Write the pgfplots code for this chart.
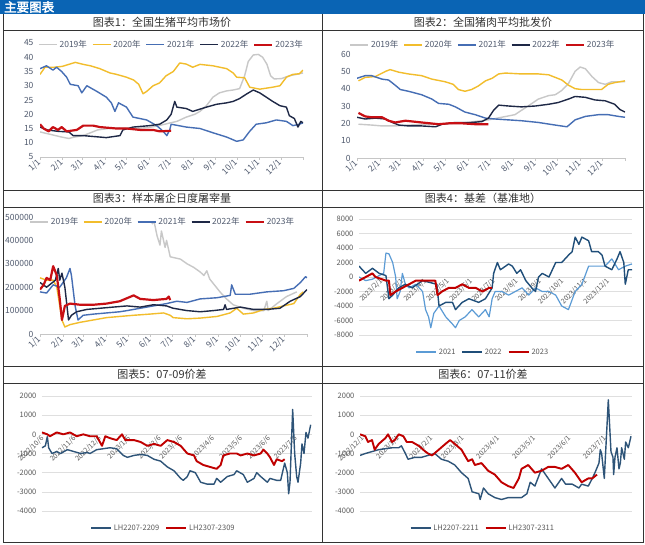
\documentclass[border=0pt]{standalone}
\usepackage{fontspec}
\setmainfont{Noto Sans CJK SC}
\newfontfamily\hdfont[FakeBold=2.5]{Noto Sans CJK SC}
\usepackage{pgfplots}
\pgfplotsset{compat=1.18}
\definecolor{hdblue}{RGB}{10,100,180}
\definecolor{cA}{RGB}{200,200,200}
\definecolor{cB}{RGB}{242,189,44}
\definecolor{cC}{RGB}{70,110,180}
\definecolor{cD}{RGB}{30,40,70}
\definecolor{cE}{RGB}{200,15,20}
\definecolor{lb}{RGB}{91,155,213}
\definecolor{db}{RGB}{31,78,121}
\definecolor{rr}{RGB}{192,0,0}
\definecolor{st}{RGB}{46,84,120}
\definecolor{tickc}{RGB}{80,90,110}
\definecolor{tickg}{RGB}{89,89,89}
\pgfplotsset{
 p13/.style={
  scale only axis, anchor=south west, xmin=0, xmax=365,
  scaled y ticks=false,
  axis lines*=left, tick align=outside,
  y axis line style={draw=none}, ytick style={draw=none},
  x axis line style={draw=gray!45, line width=0.8pt},
  xtick style={draw=gray!45}, major tick length=3pt,
  xtick={0,31,59,90,120,151,181,212,243,273,304,334,365},
  xticklabels={1/1,2/1,3/1,4/1,5/1,6/1,7/1,8/1,9/1,10/1,11/1,12/1,{}},
  xticklabel style={rotate=45, anchor=east, font=\fontsize{8.5}{9}\selectfont, text=tickc, inner sep=1pt},
  yticklabel style={font=\fontsize{8.5}{9}\selectfont, text=tickc},
  legend style={draw=none, fill=none, legend columns=-1, font=\fontsize{8.5}{9}\selectfont, text=tickc, inner sep=0pt, /tikz/every even column/.append style={column sep=3pt}},
  legend image code/.code={\draw[##1] (0pt,0pt) -- (18pt,0pt);},
  every axis plot/.append style={line join=round},
 },
 p46/.style={
  scale only axis, anchor=south west, scaled y ticks=false,
  axis x line=middle, axis y line=left,
  x axis line style={draw=gray!30, -}, y axis line style={draw=none},
  tick style={draw=none},
  ymajorgrids, grid style={gray!25, line width=0.6pt},
  xticklabel style={rotate=45, anchor=east, font=\fontsize{7}{7}\selectfont, text=tickg, inner sep=1pt},
  yticklabel style={font=\fontsize{7.5}{8}\selectfont, text=tickg},
  legend style={draw=none, fill=none, legend columns=-1, font=\fontsize{7.5}{8}\selectfont, text=tickg, inner sep=0pt, /tikz/every even column/.append style={column sep=4pt}},
  legend image code/.code={\draw[##1] (0pt,0pt) -- (20pt,0pt);},
  every axis plot/.append style={line join=round},
 }
}
\begin{document}
\begin{tikzpicture}
\useasboundingbox (0pt,0pt) rectangle (645pt,544pt);
\begin{scope}[x=1pt,y=1pt]
\fill[white] (0,0) rectangle (645,544);
\fill[hdblue] (0,530) rectangle (645,544);
\node[anchor=west,text=white,font=\hdfont\fontsize{12.5}{13}\selectfont,inner sep=0] at (4,537) {主要图表};
\draw[line width=0.8pt,black!80] (3,530) -- (3,2) -- (643,2) -- (643,530);
\draw[line width=0.8pt,black!80] (322,530) -- (322,2);
\foreach \yy in {514,354,337,178,161} {\draw[line width=0.8pt,black!80] (3,\yy) -- (643,\yy);}
\begin{scope}[every node/.style={font=\fontsize{11}{12}\selectfont, text=black!80, inner sep=0}]
\node at (162,522) {图表1：全国生猪平均市场价};
\node at (483,522) {图表2：全国猪肉平均批发价};
\node at (162,346) {图表3：样本屠企日度屠宰量};
\node at (483,346) {图表4：基差（基准地）};
\node at (162,169.5) {图表5：07-09价差};
\node at (483,169.5) {图表6：07-11价差};
\end{scope}
\end{scope}

% Panel 1
\begin{axis}[p13, at={(40pt,387pt)}, width=263pt, height=114pt, ymin=5, ymax=45,
  ytick={5,10,15,20,25,30,35,40,45}, yticklabels={5,10,15,20,25,30,35,40,45},
  legend style={at={(0.5,0.985)}, anchor=center}]
\addplot[cA, line width=1.4pt] coordinates {(0,13.8)(10,13.2)(20,12.6)(30,12)(40,11.5)(48,12)(60,12.5)(70,13.5)(80,14.5)(95,15)(110,15.2)(130,15)(150,15.3)(165,16)(178,16.8)(190,17.5)(203,19)(215,20)(222,21)(231,23)(240,26)(249,27.5)(259,28.2)(268,28.5)(277,29)(284,33.5)(289,38.5)(296,40.8)(303,41)(309,40)(315,37.5)(320,33.5)(325,32.4)(335,32.5)(346,33.5)(356,34)(365,34.5)};
\addlegendentry{2019年}
\addplot[cB, line width=1.4pt] coordinates {(0,34)(7,36.5)(20,36.5)(31,36.8)(40,37.5)(49,38.2)(60,37.5)(70,37)(83,36)(97,34.5)(106,34)(120,33)(130,32)(137,30.5)(143,27.2)(148,28)(157,30)(166,31)(175,33.5)(185,35)(194,38)(203,37.6)(212,36.5)(222,37.5)(240,37)(259,36)(268,34.5)(273,33)(284,32.8)(291,29.5)(305,28.8)(323,29.5)(333,30)(342,33)(351,34)(360,34.2)(365,35.5)};
\addlegendentry{2020年}
\addplot[cC, line width=1.4pt] coordinates {(0,36)(9,37)(18,35.5)(23,36.5)(30,35)(37,33)(42,30.5)(53,30)(58,27.5)(65,30)(79,28)(92,26)(99,24)(104,21)(109,24)(120,22.5)(129,19)(148,18)(162,16)(171,14)(176,12.5)(180,14.5)(182,16.5)(203,15.5)(222,15)(240,13.5)(259,12)(273,10.5)(282,11)(291,14)(300,16.5)(314,17)(328,18)(342,17.5)(351,16)(360,16.5)(365,17)};
\addlegendentry{2021年}
\addplot[cD, line width=1.4pt] coordinates {(0,15.5)(10,14.5)(25,14)(40,13.8)(46,12.5)(60,12.5)(83,12)(92,11.8)(111,12.5)(115,14.5)(129,15.5)(152,16)(166,16.5)(176,18)(182,20)(187,24.5)(190,22.5)(203,22)(212,21)(231,22.5)(245,23.5)(259,24)(268,24.5)(277,25.5)(286,27)(296,28.5)(305,27.5)(314,26)(323,24.5)(333,23)(342,22.5)(346,19.5)(353,18.5)(358,15.5)(362,17.5)(365,17)};
\addlegendentry{2022年}
\addplot[cE, line width=2.2pt] coordinates {(0,16.5)(5,15)(12,14)(18,15.5)(25,14.5)(30,15.5)(37,14)(51,14.5)(60,16)(74,16)(83,15.5)(106,15)(120,15)(139,14.5)(157,14.5)(166,14)(182,14.2)};
\addlegendentry{2023年}
\end{axis}

% Panel 2
\begin{axis}[p13, at={(357pt,386pt)}, width=268pt, height=104pt, ymin=0, ymax=60,
  ytick={0,10,20,30,40,50,60}, yticklabels={0,10,20,30,40,50,60},
  legend style={at={(0.47,1.087)}, anchor=center}]
\addplot[cA, line width=1.4pt] coordinates {(2,19.5)(20,19)(34,18.5)(52,18.5)(70,19)(100,19.5)(140,20)(179,22)(197,23.5)(215,25)(233,30)(247,34)(261,36)(270,36.5)(279,39)(288,43)(297,50)(304,52.5)(311,51.5)(320,47)(329,43.5)(338,42.5)(347,44)(365,44)};
\addlegendentry{2019年}
\addplot[cB, line width=1.4pt] coordinates {(2,44.5)(11,46.5)(25,47)(39,50)(45,51)(57,49.5)(70,48.5)(88,47.5)(102,45.5)(120,44)(131,42.5)(138,39.5)(147,38.5)(156,39.5)(165,41.5)(175,44.5)(184,46)(193,48.5)(202,49)(224,48.5)(247,48.5)(261,48)(270,46.5)(279,45)(288,42)(297,40)(306,39.5)(333,39.5)(342,42.5)(351,43.5)(365,44.5)};
\addlegendentry{2020年}
\addplot[cC, line width=1.4pt] coordinates {(0,46)(11,47.5)(20,47.5)(34,45.5)(43,45)(52,42)(59,39.5)(70,38.5)(88,36.5)(102,34)(111,31.5)(125,31)(134,29.5)(147,26.5)(161,25)(175,23)(188,22.5)(206,22)(224,21.5)(247,20.5)(270,19)(286,18)(297,22)(311,24)(329,25)(342,25)(356,24)(365,23.5)};
\addlegendentry{2021年}
\addplot[cD, line width=1.4pt] coordinates {(0,23.5)(11,22.5)(25,23)(39,22.5)(48,20.5)(57,19)(70,18.5)(88,18.5)(107,18)(116,19.5)(134,20.5)(156,20.5)(170,21)(179,23)(186,27.5)(193,30.5)(206,30)(224,29.5)(243,30)(261,31)(274,32)(288,34)(297,35.5)(311,35)(324,33.5)(338,33)(351,31)(358,28)(365,26.5)};
\addlegendentry{2022年}
\addplot[cE, line width=2.2pt] coordinates {(2,26)(11,24)(20,23.5)(34,23.5)(43,21.5)(52,20.5)(66,21.5)(88,20.5)(111,19.5)(125,20)(143,20)(161,19.5)(179,19.5)};
\addlegendentry{2023年}
\end{axis}

% Panel 3
\begin{axis}[p13, at={(40pt,210pt)}, width=267pt, height=117pt, ymin=0, ymax=500000,
  ytick={0,100000,200000,300000,400000,500000}, yticklabels={0,100000,200000,300000,400000,500000},
  legend style={at={(0.46,0.957)}, anchor=center}]
\addplot[cA, line width=1.4pt] coordinates {(153,470000)(156,480000)(160,420000)(164,380000)(166,440000)(171,370000)(173,400000)(178,330000)(192,320000)(201,300000)(210,285000)(219,265000)(224,250000)(228,270000)(232,235000)(246,180000)(255,150000)(264,125000)(278,110000)(292,100000)(306,100000)(310,140000)(312,100000)(324,130000)(337,160000)(351,180000)};
\addlegendentry{2019年}
\addplot[cB, line width=1.4pt] coordinates {(0,240000)(9,230000)(18,230000)(23,200000)(30,60000)(34,30000)(41,40000)(55,50000)(73,60000)(91,70000)(109,75000)(128,80000)(150,85000)(169,90000)(178,80000)(182,70000)(201,65000)(219,68000)(242,75000)(260,90000)(269,110000)(278,85000)(292,90000)(306,105000)(319,110000)(333,120000)(347,130000)(356,170000)(360,180000)};
\addlegendentry{2020年}
\addplot[cC, line width=1.4pt] coordinates {(0,180000)(9,175000)(18,210000)(27,200000)(36,240000)(41,280000)(43,250000)(48,120000)(52,60000)(59,80000)(73,85000)(91,90000)(109,95000)(119,100000)(137,110000)(155,120000)(173,130000)(187,140000)(201,135000)(219,150000)(242,155000)(260,165000)(262,210000)(267,170000)(287,170000)(310,180000)(333,185000)(347,195000)(356,220000)(363,245000)(365,240000)};
\addlegendentry{2021年}
\addplot[cD, line width=1.4pt] coordinates {(0,220000)(9,200000)(21,230000)(25,280000)(27,230000)(30,260000)(34,200000)(39,60000)(43,80000)(50,95000)(64,105000)(82,110000)(100,115000)(119,120000)(137,115000)(155,125000)(173,120000)(182,110000)(201,100000)(219,95000)(237,100000)(251,105000)(253,125000)(255,105000)(274,115000)(292,105000)(310,105000)(328,110000)(342,140000)(356,160000)(365,190000)};
\addlegendentry{2022年}
\addplot[cE, line width=2.2pt] coordinates {(0,190000)(5,210000)(9,240000)(14,230000)(18,290000)(23,250000)(27,150000)(30,60000)(34,120000)(41,130000)(55,125000)(73,125000)(91,130000)(109,140000)(128,165000)(137,150000)(155,145000)(173,150000)(176,160000)(178,145000)};
\addlegendentry{2023年}
\end{axis}

% Panel 4
\begin{axis}[p46, at={(359pt,209pt)}, width=273pt, height=116pt, xmin=0, xmax=365, ymin=-8000, ymax=8000,
  ytick={-8000,-6000,-4000,-2000,0,2000,4000,6000,8000},
  yticklabels={-8000,-6000,-4000,-2000,0,2000,4000,6000,8000},
  xtick={0,31,59,90,120,151,181,212,243,273,304,334},
  xticklabels={2023/1/1,2023/2/1,2023/3/1,2023/4/1,2023/5/1,2023/6/1,2023/7/1,2023/8/1,2023/9/1,2023/10/1,2023/11/1,2023/12/1},
  legend style={at={(0.454,-0.147)}, anchor=center}]
\addplot[lb, line width=1.2pt] coordinates {(0,0)(9,-500)(18,-300)(27,200)(33,500)(36,3300)(40,3200)(45,2000)(49,0)(51,-3000)(55,-2000)(58,500)(62,-1000)(67,-1500)(76,-1000)(85,-2000)(89,-4500)(93,-5500)(96,-7000)(100,-5000)(107,-4000)(116,-5500)(125,-6500)(129,-7000)(134,-6000)(142,-5500)(151,-4500)(160,-5500)(169,-4500)(174,-5500)(178,-3000)(182,-2000)(191,-2000)(200,-2500)(209,-2000)(218,-1500)(227,-2500)(236,-1500)(245,-2000)(254,-2000)(263,-2500)(271,-4000)(280,-4500)(289,-2000)(298,-1000)(307,1500)(316,1500)(329,1500)(338,2500)(347,1000)(356,1500)(365,1800)};
\addlegendentry{2021}
\addplot[db, line width=1.4pt] coordinates {(0,1500)(9,500)(18,1200)(27,500)(36,200)(40,-3000)(45,-2500)(53,-1500)(62,-1000)(71,-1500)(85,-500)(104,-1000)(107,-4000)(116,-3500)(125,-3500)(129,-4500)(138,-3500)(147,-3000)(160,-3500)(169,-3000)(178,-1500)(180,500)(185,2000)(189,1000)(196,1500)(200,1800)(205,1500)(211,500)(216,1000)(223,-500)(231,-1500)(236,-2000)(240,0)(245,500)(254,0)(263,2000)(271,2000)(280,3000)(285,3500)(289,5500)(294,4500)(298,5500)(307,5000)(311,3500)(320,3500)(325,3000)(329,1500)(338,1000)(345,2500)(349,3500)(354,2000)(356,-1000)(360,1000)(365,1000)};
\addlegendentry{2022}
\addplot[rr, line width=2pt] coordinates {(0,-500)(9,0)(18,500)(22,0)(36,-500)(40,-500)(42,-2500)(49,-2000)(58,-1500)(67,-1000)(76,-500)(85,-500)(102,-500)(105,-2500)(111,-2000)(120,-1500)(129,-1500)(138,-1000)(147,-1500)(156,-1500)(165,-2000)(174,-1500)(178,-1500)};
\addlegendentry{2023}
\end{axis}

% Panel 5
\begin{axis}[p46, at={(42pt,33pt)}, width=270pt, height=115pt, xmin=0, xmax=202.5, ymin=-4000, ymax=2000,
  ytick={-4000,-3000,-2000,-1000,0,1000,2000},
  yticklabels={-4000,-3000,-2000,-1000,0,1000,2000},
  xtick={1,25,44,66,89,105,129,150,171,191},
  xticklabels={2022/10/6,2022/11/6,2022/12/6,2023/1/6,2023/2/6,2023/3/6,2023/4/6,2023/5/6,2023/6/6,2023/7/6},
  legend style={at={(0.45,-0.148)}, anchor=center}]
\addplot[st, line width=1.4pt] coordinates {(0,-700)(2.5,-600)(4,-120)(5,-700)(7.5,-1000)(11,-900)(14,-1000)(19,-800)(24,-900)(29,-1000)(34,-950)(36,-1000)(41,-800)(46,-750)(51,-700)(56,-750)(61,-1100)(64,-1200)(69,-1100)(74,-1050)(79,-1100)(84,-1300)(89,-1400)(94,-1700)(99,-1900)(104,-2300)(106,-2400)(109,-2200)(111,-1900)(115,-2000)(119,-2500)(124,-2600)(129,-2600)(131,-2300)(134,-2500)(139,-2200)(144,-2100)(146,-1900)(151,-2100)(154,-2500)(159,-2300)(161,-2000)(164,-2200)(169,-2500)(171,-2300)(176,-2400)(179,-2400)(181,-1800)(182,-1500)(184,-2000)(185,-3100)(186,-2500)(188,1300)(189.5,-1000)(191,-2200)(192,-2500)(194,-1500)(195,-500)(196.5,-1000)(198,100)(199.5,-200)(201.5,500)};
\addlegendentry{LH2207-2209}
\addplot[rr, line width=1.9pt] coordinates {(0,100)(4,0)(6,-100)(11,100)(16,0)(21,100)(26,-100)(31,0)(36,-100)(41,-100)(45,-600)(47.5,-100)(51,-200)(56,-300)(60,0)(62.5,-300)(69,-300)(74,-400)(79,-600)(84,-500)(89,-600)(94,-300)(99,-400)(104,-600)(109,-1000)(114,-1100)(116,-1400)(121,-1600)(126,-1700)(131,-1800)(134,-1600)(136,-1100)(141,-1000)(146,-1000)(149,-1100)(154,-1000)(159,-1100)(164,-1000)(166,-800)(169,-1000)(171,-1200)(174,-1600)(176,-1300)(180,-1400)(182,-1300)};
\addlegendentry{LH2307-2309}
\end{axis}

% Panel 6
\begin{axis}[p46, at={(360pt,33pt)}, width=272pt, height=115pt, xmin=0, xmax=203.75, ymin=-4000, ymax=2000,
  ytick={-4000,-3000,-2000,-1000,0,1000,2000},
  yticklabels={-4000,-3000,-2000,-1000,0,1000,2000},
  xtick={2.5,29,54,77.5,104,131,157.5,184},
  xticklabels={2022/12/1,2023/1/1,2023/2/1,2023/3/1,2023/4/1,2023/5/1,2023/6/1,2023/7/1},
  legend style={at={(0.452,-0.148)}, anchor=center}]
\addplot[st, line width=1.4pt] coordinates {(0,-1100)(4,-1000)(9,-900)(14,-800)(19,-750)(24,-700)(29,-700)(31,-600)(34,-1000)(36,-1300)(41,-1200)(46,-1200)(51,-1100)(56,-1000)(61,-1300)(66,-1400)(71,-1600)(76,-2000)(81,-2300)(84,-3000)(89,-3100)(90,-3400)(92.5,-2800)(96,-3100)(101,-3300)(106,-3400)(111,-3300)(116,-3300)(121,-3300)(125,-3100)(127.5,-2500)(131,-2700)(136,-1800)(141,-2300)(146,-2800)(151,-2300)(154,-2600)(159,-2600)(164,-2800)(166,-2600)(171,-2700)(174,-2300)(176,-2000)(179,-1500)(180,-800)(181,-1000)(183,-2300)(186,1800)(188,-900)(189.5,-1200)(190,-2100)(191,-1200)(192.5,-700)(194,-1800)(195,-1500)(196,-700)(198,-1300)(199,-400)(201,-700)(203,-100)};
\addlegendentry{LH2207-2211}
\addplot[rr, line width=1.9pt] coordinates {(0,0)(4,-100)(6,-400)(9,-300)(11,-800)(14,-500)(19,-200)(21,0)(24,-400)(26,-300)(29,0)(32.5,-100)(35,-400)(39,-400)(44,-600)(49,-900)(51,-1000)(54,-1100)(59,-800)(64,-500)(67.5,-300)(71,-500)(76,-800)(81,-1400)(84,-1300)(86,-1600)(91,-1500)(96,-1900)(101,-2100)(106,-2500)(111,-2700)(115,-2800)(119,-2300)(121,-1800)(126,-1600)(131,-2000)(136,-1900)(141,-1700)(146,-1700)(151,-1800)(156,-1600)(161,-2000)(164,-2300)(166,-2500)(171,-2300)(174,-2300)(177.5,-2100)};
\addlegendentry{LH2307-2311}
\end{axis}
\end{tikzpicture}
\end{document}
